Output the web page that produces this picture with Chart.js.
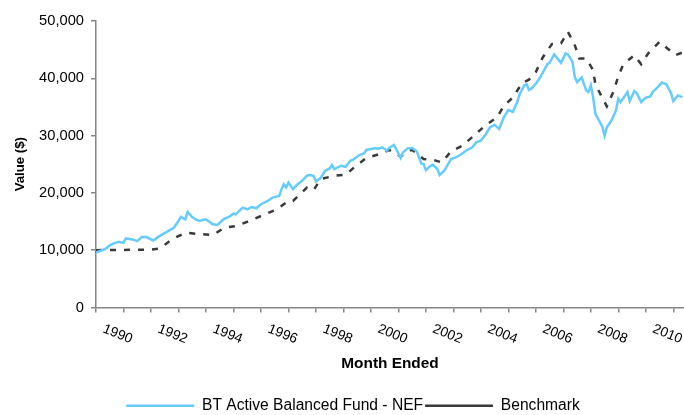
<!DOCTYPE html>
<html>
<head>
<meta charset="utf-8">
<script src="https://cdn.jsdelivr.net/npm/chart.js@4.4.1/dist/chart.umd.min.js"></script>
<style>
  html, body { margin: 0; padding: 0; background: #fff; }
  #wrap { width: 684px; height: 415px; position: relative; }
</style>
</head>
<body>
<div id="wrap"><canvas id="valueChart"></canvas></div>
<script>
// month ended (YYYY-MM) and value of $10,000 invested
const fundMonths = [
  '1990-01','1990-05','1990-07','1990-09','1990-11','1991-01','1991-02','1991-05','1991-07','1991-09',
  '1991-11','1992-02','1992-04','1992-06','1992-09','1992-11','1993-01','1993-02','1993-04','1993-05',
  '1993-07','1993-08','1993-10','1994-01','1994-02','1994-04','1994-06','1994-07','1994-09','1994-11',
  '1995-01','1995-02','1995-05','1995-07','1995-09','1995-11','1996-01','1996-04','1996-06','1996-09',
  '1996-10','1996-11','1996-12','1997-01','1997-03','1997-05','1997-07','1997-09','1997-10','1997-12',
  '1998-01','1998-03','1998-05','1998-07','1998-08','1998-09','1998-12','1999-02','1999-04','1999-05',
  '1999-08','1999-10','1999-11','2000-01','2000-03','2000-04','2000-06','2000-08','2000-09','2000-11',
  '2000-12','2001-02','2001-03','2001-05','2001-07','2001-09','2001-10','2001-11','2001-12','2002-01',
  '2002-03','2002-04','2002-06','2002-07','2002-09','2002-10','2002-12','2003-02','2003-04','2003-05',
  '2003-07','2003-09','2003-11','2004-01','2004-03','2004-05','2004-07','2004-09','2004-11','2005-01',
  '2005-03','2005-05','2005-06','2005-08','2005-09','2005-10','2005-11','2006-01','2006-03','2006-06',
  '2006-07','2006-09','2006-12','2007-02','2007-03','2007-05','2007-06','2007-07','2007-09','2007-11',
  '2007-12','2008-01','2008-02','2008-03','2008-05','2008-06','2008-07','2008-08','2008-10','2008-12',
  '2009-01','2009-02','2009-05','2009-06','2009-08','2009-09','2009-11','2010-01','2010-03','2010-04',
  '2010-06','2010-08','2010-10','2010-12','2011-01','2011-03','2011-05'
];
const fundValues = [
  9600, 10200, 10830, 11230, 11460, 11280, 12050, 11880, 11580, 12280,
  12280, 11700, 12280, 12750, 13450, 13910, 15090, 15790, 15390, 16670,
  15790, 15490, 15090, 15390, 15090, 14510, 14390, 14790, 15490, 15790,
  16370, 16260, 17420, 17140, 17540, 17320, 18020, 18600, 19180, 19470,
  20650, 21520, 20930, 21810, 20650, 21520, 22100, 22980, 23100, 22980,
  21980, 22580, 23860, 24270, 24860, 24160, 24740, 24560, 25610, 25740,
  26610, 26900, 27490, 27670, 27840, 27670, 27960, 27370, 27840, 28370,
  27670, 26090, 27070, 27770, 27840, 27250, 26190, 25140, 25030, 23980,
  24740, 24910, 24160, 23100, 23860, 24560, 25910, 26190, 26610, 26900,
  27490, 27840, 28820, 29120, 30150, 31460, 31870, 31180, 33210, 34450,
  34150, 35990, 37320, 38770, 38950, 37950, 38190, 39070, 40230, 42460,
  42690, 44160, 42690, 44330, 44160, 42870, 40230, 39350, 40120, 37890,
  37600, 38770, 36720, 33800, 32330, 31580, 30000, 31460, 32630, 34390,
  36440, 35840, 37600, 36020, 37770, 37420, 35840, 36610, 36840, 37600,
  38370, 39250, 38950, 37420, 36020, 37020, 36720
];

const benchMonths = [
  '1990-01','1991-01','1992-01','1992-05','1992-10','1993-04','1993-09','1994-04','1994-09','1995-02',
  '1995-08','1996-01','1996-08','1997-01','1997-03','1997-09','1997-12','1998-03','1998-09','1999-02',
  '1999-06','1999-11','2000-05','2000-09','2001-02','2001-07','2001-12','2002-04','2002-08','2002-12',
  '2003-05','2003-10','2004-03','2004-08','2004-11','2005-03','2005-07','2005-10','2006-01','2006-04',
  '2006-08','2006-12','2007-03','2007-06','2007-08','2007-11','2008-01','2008-02','2008-03','2008-06',
  '2008-08','2008-11','2009-01','2009-03','2009-05','2009-08','2009-11','2010-02','2010-07','2010-11',
  '2011-02','2011-05'
];
const benchValues = [
  10000, 10050, 10100, 10300, 11880, 13040, 12860, 12630, 13910, 14210,
  15090, 15970, 17140, 18600, 18600, 20900, 20470, 22400, 22980, 23160,
  24560, 26090, 26790, 27490, 26370, 27540, 25910, 25790, 25320, 27250,
  28250, 30000, 31800, 33150, 35170, 36660, 39180, 39770, 41100, 43630,
  45970, 46090, 48130, 45790, 43450, 43450, 42110, 41400, 38950, 36610,
  35090, 37770, 40350, 42280, 43030, 44030, 42460, 44330, 46370, 45030,
  44030, 44500
];

const tickYears = [1990, 1991, 1992, 1993, 1994, 1995, 1996, 1997, 1998, 1999, 2000,
  2001, 2002, 2003, 2004, 2005, 2006, 2007, 2008, 2009, 2010, 2011];
const labelYears = [1990, 1992, 1994, 1996, 1998, 2000, 2002, 2004, 2006, 2008, 2010];

const seriesNames = ['BT Active Balanced Fund - NEF', 'Benchmark'];

const toYear = s => { const [y, m] = s.split('-').map(Number); return y + (m - 1) / 12; };
const axisGray = '#868686';
const FONT = '"Liberation Sans", Arial, Helvetica, sans-serif';
Chart.defaults.font.family = FONT;
Chart.defaults.color = '#000';

// year labels hang down to the right of their tick, like the Excel original
const slantedYears = {
  id: 'slantedYears',
  afterDraw(chart) {
    const scale = chart.scales.x;
    const ctx = chart.ctx;
    ctx.save();
    ctx.font = '13.8px ' + FONT;
    ctx.fillStyle = '#000';
    ctx.textAlign = 'left';
    ctx.textBaseline = 'top';
    scale.ticks.forEach(t => {
      if (!t.label) return;
      const px = scale.getPixelForValue(t.value);
      ctx.save();
      ctx.translate(px + 10, scale.top + 14.5);
      ctx.rotate(22 * Math.PI / 180);
      ctx.fillText(t.label, 0, 0);
      ctx.restore();
    });
    ctx.restore();
  }
};

// legend sits a little right of centre and close to the bottom edge
const legendShift = {
  id: 'legendShift',
  afterLayout(chart) {
    const lg = chart.legend;
    lg.left += 11;
    lg.right += 11;
    lg.top += 9.5;
    lg.bottom += 9.5;
  }
};

new Chart(document.getElementById('valueChart'), {
  type: 'line',
  data: {
    datasets: [
      {
        label: seriesNames[0],
        data: fundMonths.map((m, i) => ({ x: toYear(m), y: fundValues[i] })),
        borderColor: '#66ccff',
        backgroundColor: '#66ccff',
        borderWidth: 2.5,
        pointRadius: 0,
        tension: 0
      },
      {
        label: seriesNames[1],
        data: benchMonths.map((m, i) => ({ x: toYear(m), y: benchValues[i] })),
        borderColor: '#3a3a3a',
        backgroundColor: '#3a3a3a',
        borderWidth: 2.5,
        borderDash: [6, 8],
        pointRadius: 0,
        tension: 0
      }
    ]
  },
  options: {
    responsive: true,
    maintainAspectRatio: false,
    animation: false,
    layout: { padding: { top: 21, right: 0, bottom: 1, left: 0 } },
    scales: {
      x: {
        type: 'linear',
        min: 1990,
        max: 2011.39,
        afterBuildTicks: scale => { scale.ticks = tickYears.map(v => ({ value: v })); },
        ticks: {
          color: 'transparent',
          font: { size: 14.7 },
          minRotation: 0,
          maxRotation: 0,
          autoSkip: false,
          padding: 3,
          callback: v => labelYears.includes(v) ? String(v) : ''
        },
        grid: { drawOnChartArea: false, color: axisGray, lineWidth: 1.5, tickLength: 5 },
        border: { color: axisGray, width: 1.5 },
        title: {
          display: true,
          text: 'Month Ended',
          font: { size: 15.4, weight: 'bold' },
          color: '#000',
          padding: { top: 18.6, bottom: 13.2 }
        }
      },
      y: {
        min: 0,
        max: 50000,
        afterFit: scale => { scale.width = 96; },
        ticks: {
          stepSize: 10000,
          font: { size: 14.7 },
          color: '#000',
          padding: 7,
          callback: v => v.toLocaleString('en-US')
        },
        grid: { drawOnChartArea: false, color: axisGray, lineWidth: 1.5, tickLength: 5 },
        border: { color: axisGray, width: 1.5 },
        title: {
          display: true,
          text: 'Value ($)',
          font: { size: 13.2, weight: 'bold' },
          color: '#000',
          padding: { top: 12, bottom: 11 }
        }
      }
    },
    plugins: {
      legend: {
        position: 'bottom',
        labels: {
          usePointStyle: true,
          pointStyle: 'line',
          pointStyleWidth: 68,
          padding: 2,
          font: { size: 15.6 },
          color: '#000'
        }
      },
      tooltip: { enabled: false }
    }
  },
  plugins: [slantedYears, legendShift]
});
</script>
</body>
</html>
